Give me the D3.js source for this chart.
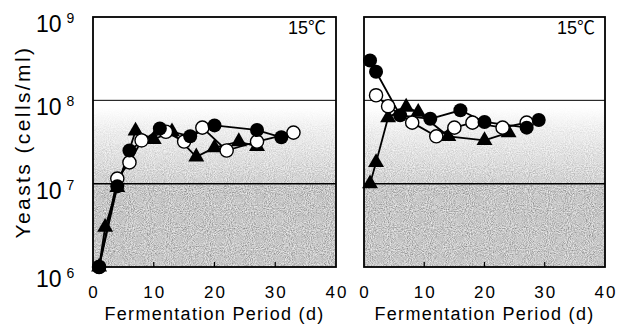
<!DOCTYPE html>
<html>
<head>
<meta charset="utf-8">
<script src="https://cdn.jsdelivr.net/npm/d3@7"></script>
<style>
  body { margin: 0; background: #fff; }
  svg { display: block; font-family: "Liberation Sans", Arial, "Noto Sans CJK JP", sans-serif; }
</style>
</head>
<body>
<div id="chart"></div>
<script>
const width = 618;
const height = 327;

// values (day, cells/ml)
const leftFilledDays = [1, 4, 6, 11, 16, 20, 27, 31];
const leftFilledYeasts = [1.0e6, 9.3e6, 2.5e7, 4.6e7, 3.7e7, 5.0e7, 4.4e7, 3.6e7];
const leftOpenDays = [1, 4, 6, 8, 12, 15, 18, 22, 27, 33];
const leftOpenYeasts = [1.0e6, 1.15e7, 1.8e7, 3.3e7, 4.2e7, 3.2e7, 4.7e7, 2.5e7, 3.2e7, 4.1e7];
const leftTriDays = [1, 2, 4, 7, 10, 13, 17, 20, 24, 27];
const leftTriYeasts = [1.0e6, 3.0e6, 9.0e6, 4.3e7, 3.4e7, 4.2e7, 2.1e7, 2.7e7, 3.2e7, 2.8e7];

const rightFilledDays = [1, 2, 6, 11, 16, 20, 27, 29];
const rightFilledYeasts = [3.0e8, 2.2e8, 6.6e7, 6.0e7, 7.6e7, 5.5e7, 4.7e7, 5.8e7];
const rightOpenDays = [2, 4, 8, 12, 15, 18, 23, 27];
const rightOpenYeasts = [1.15e8, 8.5e7, 5.4e7, 3.7e7, 4.7e7, 5.4e7, 4.7e7, 5.4e7];
const rightTriDays = [1, 2, 4, 7, 9, 14, 20, 24];
const rightTriYeasts = [1.0e7, 1.8e7, 6.2e7, 8.3e7, 7.2e7, 3.7e7, 3.3e7, 4.1e7];

const xTicks = [0, 10, 20, 30, 40];
const yTicks = [1e6, 1e7, 1e8, 1e9];
const tempLabel = '15℃';
const xTitle = 'Fermentation Period (d)';
const yTitle = 'Yeasts (cells/ml)';

const zip = (xs, ys) => xs.map((x, i) => ({ day: x, yeasts: ys[i] }));

const panels = [
  { left: 93, right: 336, showY: true,
    tri: zip(leftTriDays, leftTriYeasts),
    open: zip(leftOpenDays, leftOpenYeasts),
    filled: zip(leftFilledDays, leftFilledYeasts) },
  { left: 364, right: 605, showY: false,
    tri: zip(rightTriDays, rightTriYeasts),
    open: zip(rightOpenDays, rightOpenYeasts),
    filled: zip(rightFilledDays, rightFilledYeasts) }
];

const plotTop = 17;
const plotBottom = 267;

const svg = d3.select('#chart')
  .append('svg')
  .attr('width', width)
  .attr('height', height);

const defs = svg.append('defs');
const grad = defs.append('linearGradient')
  .attr('id', 'fade')
  .attr('x1', 0).attr('y1', 0).attr('x2', 0).attr('y2', 1);
grad.append('stop').attr('offset', '0%').attr('stop-color', '#ffffff');
grad.append('stop').attr('offset', '30%').attr('stop-color', '#eeeeee');
grad.append('stop').attr('offset', '100%').attr('stop-color', '#d0d0d0');

// stipple texture, stronger where the fill is darker
const grain = defs.append('filter')
  .attr('id', 'grain')
  .attr('x', 0).attr('y', 0).attr('width', 1).attr('height', 1);
grain.append('feTurbulence')
  .attr('type', 'fractalNoise')
  .attr('baseFrequency', 0.95)
  .attr('numOctaves', 2)
  .attr('seed', 4)
  .attr('result', 'noise');
grain.append('feColorMatrix')
  .attr('in', 'noise')
  .attr('type', 'matrix')
  .attr('values', '1 0 0 0 0  1 0 0 0 0  1 0 0 0 0  0 0 0 0 1')
  .attr('result', 'gray');
grain.append('feComposite')
  .attr('in', 'SourceGraphic')
  .attr('in2', 'gray')
  .attr('operator', 'arithmetic')
  .attr('k1', -2).attr('k2', 2).attr('k3', 2).attr('k4', -1)
  .attr('result', 'dots');
grain.append('feComposite')
  .attr('in', 'dots')
  .attr('in2', 'SourceGraphic')
  .attr('operator', 'in');

const yScale = d3.scaleLog()
  .domain([1e6, 1e9])
  .range([plotBottom, plotTop]);

panels.forEach(function(p) {
  const xScale = d3.scaleLinear()
    .domain([0, 40])
    .range([p.left, p.right]);

  const g = svg.append('g');

  // shaded bands
  const bands = g.append('g').attr('filter', 'url(#grain)');
  bands.append('rect')
    .attr('x', p.left)
    .attr('y', yScale(Math.pow(10, 7.92)))
    .attr('width', p.right - p.left)
    .attr('height', yScale(1e7) - yScale(Math.pow(10, 7.92)))
    .attr('fill', 'url(#fade)');
  bands.append('rect')
    .attr('x', p.left)
    .attr('y', yScale(1e7))
    .attr('width', p.right - p.left)
    .attr('height', yScale(1e6) - yScale(1e7))
    .attr('fill', '#c6c6c6');

  // horizontal lines at 10^7 and 10^8
  g.selectAll('.hline')
    .data([1e7, 1e8])
    .enter()
    .append('line')
    .attr('x1', p.left)
    .attr('x2', p.right)
    .attr('y1', d => yScale(d))
    .attr('y2', d => yScale(d))
    .attr('stroke', '#000')
    .attr('stroke-width', d => d === 1e7 ? 1.5 : 1);

  // inward ticks on the bottom
  g.selectAll('.xtick')
    .data(xTicks.slice(1, -1))
    .enter()
    .append('line')
    .attr('x1', d => xScale(d))
    .attr('x2', d => xScale(d))
    .attr('y1', plotBottom)
    .attr('y2', plotBottom - 5)
    .attr('stroke', '#000')
    .attr('stroke-width', 1.2);

  g.append('rect')
    .attr('x', p.left)
    .attr('y', plotTop)
    .attr('width', p.right - p.left)
    .attr('height', plotBottom - plotTop)
    .attr('fill', 'none')
    .attr('stroke', '#000')
    .attr('stroke-width', 1.8);

  // x tick labels
  g.selectAll('.xlab')
    .data(xTicks)
    .enter()
    .append('text')
    .attr('x', d => xScale(d) + 1)
    .attr('y', 298)
    .attr('text-anchor', 'middle')
    .attr('font-size', 17)
    .attr('letter-spacing', 2)
    .text(d => d);

  g.append('text')
    .attr('x', (p.left + p.right) / 2)
    .attr('y', 320)
    .attr('text-anchor', 'middle')
    .attr('font-size', 18)
    .attr('letter-spacing', 1.3)
    .text(xTitle);

  g.append('text')
    .attr('x', p.right - 10)
    .attr('y', 34)
    .attr('text-anchor', 'end')
    .attr('font-size', 18)
    .text(tempLabel);

  const line = d3.line()
    .x(d => xScale(d.day))
    .y(d => yScale(d.yeasts));

  ['tri', 'open', 'filled'].forEach(function(key) {
    g.append('path')
      .datum(p[key])
      .attr('d', line)
      .attr('fill', 'none')
      .attr('stroke', '#000')
      .attr('stroke-width', 1.8);
  });

  g.selectAll('.tri')
    .data(p.tri)
    .enter()
    .append('path')
    .attr('transform', d => 'translate(' + xScale(d.day) + ',' + yScale(d.yeasts) + ')')
    .attr('d', d3.symbol().type(d3.symbolTriangle).size(110))
    .attr('fill', '#000');

  g.selectAll('.open')
    .data(p.open)
    .enter()
    .append('circle')
    .attr('cx', d => xScale(d.day))
    .attr('cy', d => yScale(d.yeasts))
    .attr('r', 6.6)
    .attr('fill', '#fff')
    .attr('stroke', '#000')
    .attr('stroke-width', 1.4);

  g.selectAll('.filled')
    .data(p.filled)
    .enter()
    .append('circle')
    .attr('cx', d => xScale(d.day))
    .attr('cy', d => yScale(d.yeasts))
    .attr('r', 7)
    .attr('fill', '#000');

  if (p.showY) {
    const labels = g.selectAll('.ylab')
      .data(yTicks)
      .enter()
      .append('text')
      .attr('x', 36)
      .attr('y', d => yScale(d) + (d === 1e6 ? 20 : 15))
      .attr('font-size', 23);
    labels.append('tspan').text('10');
    labels.append('tspan')
      .attr('dx', 5)
      .attr('dy', -9)
      .attr('font-size', 14)
      .text(d => Math.round(Math.log10(d)));
  }
});

svg.append('text')
  .attr('transform', 'translate(30,142) rotate(-90)')
  .attr('text-anchor', 'middle')
  .attr('font-size', 21)
  .attr('letter-spacing', 2.4)
  .text(yTitle);
</script>
</body>
</html>
